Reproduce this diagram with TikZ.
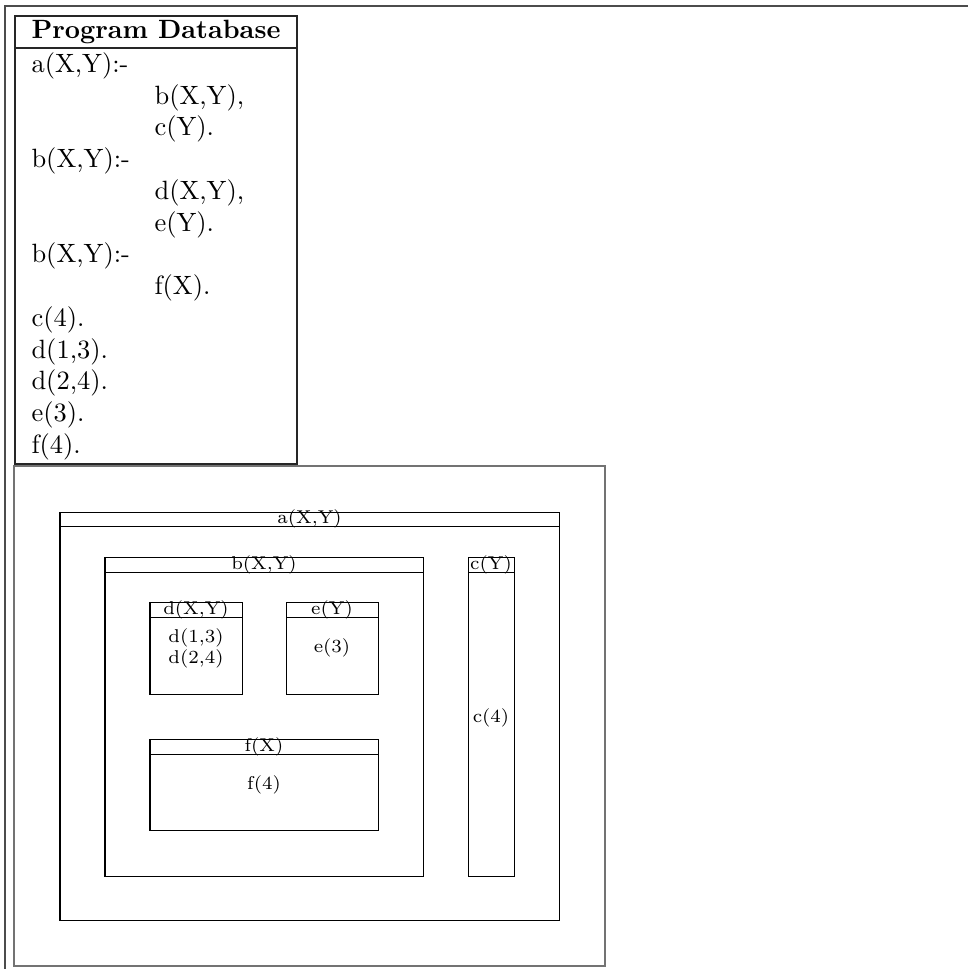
\documentclass[tikz,border=0pt]{standalone}
\usepackage{amsmath}
\usepackage{tikz}

\begin{document}
\begin{tikzpicture}[x=0.378pt,y=-0.378pt]
\tikzstyle{every node}+=[inner sep=0pt]
\tikzstyle{pageline}=[draw=black!70,line width=0.6pt]
\tikzstyle{frame}=[draw=black!55,line width=0.75pt]
\tikzstyle{tbl}=[draw=black!85,line width=0.4pt]
\tikzstyle{goal}=[draw=black,line width=0.38pt]
\tikzstyle{lbl}=[font=\scriptsize]
\useasboundingbox (0,0) rectangle (968,969);
\draw [pageline] (968,6) -- (5,6) -- (5,969);
\draw [tbl] (15,16) rectangle (297,464);
\draw [tbl] (15,48) -- (297,48);
\draw (156,32) node [font=\bfseries] (title) {Program Database};
\draw (31,52) node [anchor=north west,align=left] (prog) {a(X,Y):-\\
\hspace*{46.5pt}b(X,Y),\\
\hspace*{46.5pt}c(Y).\\
b(X,Y):-\\
\hspace*{46.5pt}d(X,Y),\\
\hspace*{46.5pt}e(Y).\\
b(X,Y):-\\
\hspace*{46.5pt}f(X).\\
c(4).\\
d(1,3).\\
d(2,4).\\
e(3).\\
f(4).};
\draw [frame] (14,466) rectangle (605,966);
\draw [goal] (60,512) rectangle (559,920);
\draw [goal] (60,526) -- (559,526);
\draw (309.5,519) node [lbl] (a) {a(X,Y)};
\draw [goal] (105,557) rectangle (423,876);
\draw [goal] (105,572) -- (423,572);
\draw (264,564.5) node [lbl] (b) {b(X,Y)};
\draw [goal] (468,557) rectangle (514,876);
\draw [goal] (468,572) -- (514,572);
\draw (491,564.5) node [lbl] (c) {c(Y)};
\draw (491,718) node [lbl] (c4) {c(4)};
\draw [goal] (150,602) rectangle (242,694);
\draw [goal] (150,617) -- (242,617);
\draw (196,609.5) node [lbl] (d) {d(X,Y)};
\draw (196,648) node [lbl,align=center] (d13) {d(1,3)\\d(2,4)};
\draw [goal] (286,602) rectangle (378,694);
\draw [goal] (286,617) -- (378,617);
\draw (332,609.5) node [lbl] (e) {e(Y)};
\draw (332,648) node [lbl] (e3) {e(3)};
\draw [goal] (150,739) rectangle (378,830);
\draw [goal] (150,754) -- (378,754);
\draw (264,746.5) node [lbl] (f) {f(X)};
\draw (264,785) node [lbl] (f4) {f(4)};
\end{tikzpicture}
\end{document}
